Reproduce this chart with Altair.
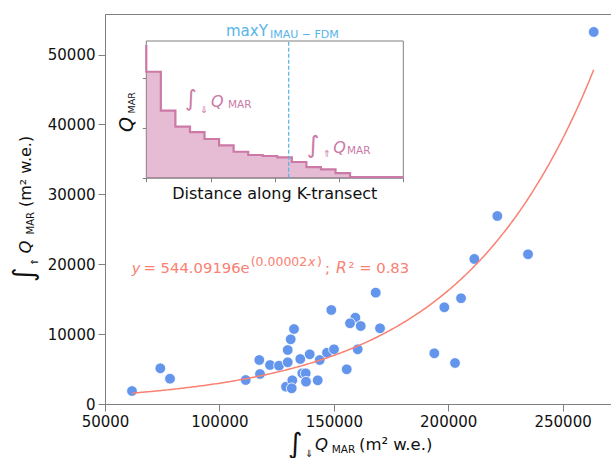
import altair as alt
import pandas as pd

# ---------------- data ----------------
# main scatter: integral of downstream Q_MAR (x) vs integral of upstream Q_MAR (y)
x_down = [61800, 74170, 78410, 111500, 117440, 117750, 122120, 126050, 129860, 129860,
          131170, 132610, 129110, 131870, 131610, 135360, 139470, 136240, 137720, 137850,
          142970, 143840, 147030, 150090, 148910, 155650, 159410, 157090, 161770, 160450,
          170200, 193930, 198310, 221470, 211420, 234890, 205610, 202980, 263610, 168320]
y_up = [1860, 5110, 3620, 3434, 6296, 4293, 5581, 5481, 5967, 7727,
        9258, 10730, 2476, 3391, 2247, 6440, 7112, 4393, 4393, 3191,
        3391, 6296, 7341, 7828, 13450, 4966, 12350, 11550, 11160, 7828,
        10830, 7255, 13840, 26900, 20750, 21420, 15130, 5867, 53230, 15930]

# exponential fit y = a * exp(b x)
FIT_A = 544.09196
FIT_B = 1.698e-5

# inset: stepped Q_MAR along the K-transect (arbitrary units)
inset_dist = [0.0, 0.0, 0.2265, 0.453, 0.680, 0.906, 1.133, 1.359, 1.586, 1.812,
              2.039, 2.265, 2.492, 2.718, 2.945, 3.171, 4.0]
inset_q = [2.653, 2.117, 1.339, 1.019, 0.912, 0.773, 0.647, 0.519, 0.454, 0.434,
           0.407, 0.314, 0.213, 0.167, 0.093, 0.014, 0.014]
max_y_fdm = 2.216

x_ticks = [50000, 100000, 150000, 200000, 250000]
y_ticks = [0, 10000, 20000, 30000, 40000, 50000]

# ---------------- styling ----------------
FONT = "DejaVu Sans"
GREY = "#808080"
BLUE = "#6495ED"
SALMON = "#FA8072"
PINK = "#CC79A7"
SKY = "#56B4E9"

pts = pd.DataFrame({"xd": x_down, "yu": y_up})
steps = pd.DataFrame({"d": inset_dist, "q": inset_q, "i": list(range(len(inset_q)))})
one = pd.DataFrame({"k": [0]})

xs = alt.Scale(domain=[50000, 271152], nice=False, zero=False)
ys = alt.Scale(domain=[0, 55800], nice=False, zero=False)

ax_common = dict(labelFontSize=15, labelFont=FONT, labelColor="#111111", tickSize=7,
                 tickColor=GREY, domainColor=GREY, labelPadding=3, grid=False, title=None,
                 labelFlush=False, labelOverlap=False)
mx_axis = alt.Axis(values=x_ticks, format="d", **ax_common)
my_axis = alt.Axis(values=y_ticks, format="d", **ax_common)

points = alt.Chart(pts).mark_circle(size=115, color=BLUE, opacity=1, stroke="white",
                                    strokeWidth=0.8).encode(
    x=alt.X("xd:Q", scale=xs, axis=mx_axis),
    y=alt.Y("yu:Q", scale=ys, axis=my_axis),
)

xmin, xmax = min(x_down), max(x_down)
fit = alt.Chart(alt.sequence(0, 301, as_="i")).transform_calculate(
    xd=f"{xmin} + datum.i * {(xmax - xmin) / 300.0}"
).transform_calculate(
    yu=f"{FIT_A} * exp({FIT_B} * datum.xd)"
).mark_line(color=SALMON, strokeWidth=1.5).encode(
    x=alt.X("xd:Q", scale=xs, axis=mx_axis),
    y=alt.Y("yu:Q", scale=ys, axis=my_axis),
)


def label(s, x, y, size, color="#111111", italic=False, angle=0, align="left"):
    kw = dict(text=s, fontSize=size, color=color, font=FONT, align=align,
              baseline="alphabetic")
    if italic:
        kw["fontStyle"] = "italic"
    if angle:
        kw["angle"] = angle
    return alt.Chart(one).mark_text(**kw).encode(x=alt.value(x), y=alt.value(y))


main_texts = [
    # fit equation
    label("y", 26.7, 259.3, 14.8, SALMON, italic=True),
    label("= 544.09196e", 38.5, 259.3, 14.8, SALMON),
    label("(0.00002", 145.7, 251.7, 12.5, SALMON),
    label("x", 203, 251.7, 12.5, SALMON, italic=True),
    label(")", 212, 251.7, 12.5, SALMON),
    label(";", 220, 259.3, 14.8, SALMON),
    label("R", 231, 259.3, 15.5, SALMON, italic=True),
    label("² = 0.83", 243.5, 259.3, 14.8, SALMON),
    # x-axis title
    label("∫", 183, 438.5, 28),
    label("⇓", 200, 443, 10),
    label("Q", 210, 436, 16.5, italic=True),
    label("MAR", 226.7, 439, 10.5),
    label("(m² w.e.)", 254, 436, 16.5),
    # y-axis title (rotated)
    label("∫", -72.5, 268, 28, angle=270),
    label("⇑", -67, 252, 10, angle=270),
    label("Q", -74, 239.5, 16.5, italic=True, angle=270),
    label("MAR", -71, 220.5, 10, angle=270),
    label("(m² w.e.)", -74, 193, 16, angle=270),
]

main = alt.layer(points, fit, *main_texts)

# ---------------- inset ----------------
ixs = alt.Scale(domain=[0, 4], range=[41.3, 298.3], nice=False, zero=False)
iys = alt.Scale(domain=[0, 2.732], range=[163.7, 27], nice=False, zero=False)
ix_axis = alt.Axis(orient="bottom", offset=-226.3, values=[0, 1, 2, 3, 4], labels=False,
                   tickSize=4, tickColor=GREY, domainColor=GREY, grid=False, title=None)
iy_axis = alt.Axis(orient="left", offset=-41.3, values=[0, 1, 2], labels=False,
                   tickSize=4, tickColor=GREY, domainColor=GREY, grid=False, title=None)

frame = alt.Chart(one).mark_rect(fill="white", stroke=GREY, strokeWidth=1).encode(
    x=alt.XDatum(0, scale=ixs, axis=ix_axis, type="quantitative"),
    x2=alt.X2Datum(4),
    y=alt.YDatum(0, scale=iys, axis=iy_axis, type="quantitative"),
    y2=alt.Y2Datum(2.732),
)

area = alt.Chart(steps).transform_filter("datum.i > 0").mark_area(
    interpolate="step-after", color=PINK, opacity=0.5).encode(
    x=alt.X("d:Q", scale=ixs, axis=ix_axis),
    y=alt.Y("q:Q", scale=iys, axis=iy_axis, stack=None),
)

line = alt.Chart(steps).mark_line(interpolate="step-after", color=PINK, strokeWidth=2.2).encode(
    x=alt.X("d:Q", scale=ixs, axis=ix_axis),
    y=alt.Y("q:Q", scale=iys, axis=iy_axis),
    order="i:Q",
)

rule = alt.Chart(one).mark_rule(color=SKY, strokeWidth=1.2, strokeDash=[4, 2]).encode(
    x=alt.XDatum(max_y_fdm, scale=ixs, axis=ix_axis, type="quantitative"),
    y=alt.YDatum(0, scale=iys, axis=iy_axis, type="quantitative"),
    y2=alt.Y2Datum(2.732),
)

inset_texts = [
    label("maxY", 121, 22, 15, SKY),
    label("IMAU − FDM", 165, 24.3, 11, SKY),
    label("Q", 28.3, 118, 19, italic=True, angle=270),
    label("MAR", 30, 99.5, 9.5, angle=270),
    label("Distance along K-transect", 169.8, 185, 16, align="center"),
    label("∫", 80, 92, 22.5, PINK),
    label("⇓", 95, 99, 9.5, PINK),
    label("Q", 106, 93, 16, PINK, italic=True),
    label("MAR", 123, 94, 10.5, PINK),
    label("∫", 202, 138.5, 24, PINK),
    label("⇑", 217.7, 142.7, 9.5, PINK),
    label("Q", 228.3, 138.5, 16, PINK, italic=True),
    label("MAR", 242, 139.5, 10.5, PINK),
]

inset = alt.layer(frame, area, line, rule, *inset_texts)

chart = alt.layer(main, inset).resolve_scale(
    x="independent", y="independent"
).properties(
    width=506, height=390,
    padding={"left": 105, "top": 14, "right": 0, "bottom": 54},
    autosize=alt.AutoSizeParams(type="none"),
    background="white",
).configure_view(stroke=GREY, strokeWidth=1).configure_axis(grid=False)

chart.save("out.html", embed_options={"renderer": "svg", "actions": False})
